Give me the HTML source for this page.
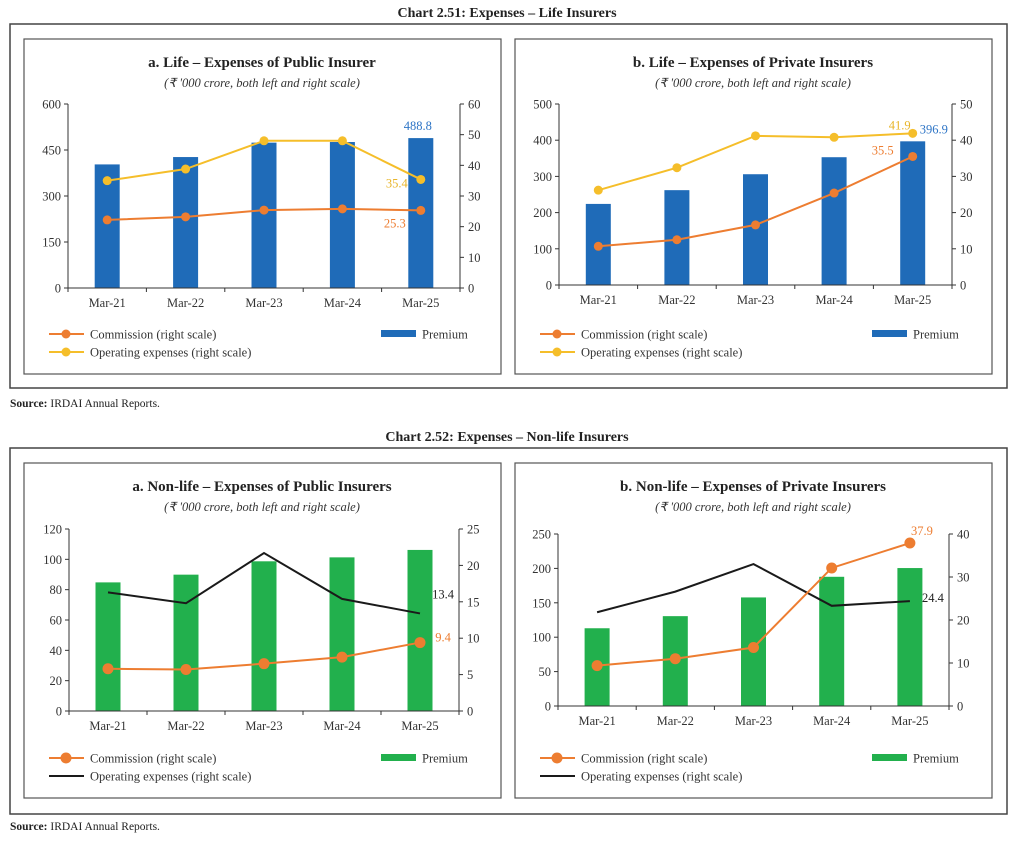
<!DOCTYPE html>
<html><head><meta charset="utf-8"><style>
body{margin:0;background:#fff;width:1015px;height:843px;overflow:hidden;font-family:"Liberation Serif",serif;}
svg text{font-family:"Liberation Serif",serif;}
</style></head><body>
<svg id="root" width="1015" height="843" viewBox="0 0 1015 843" xmlns="http://www.w3.org/2000/svg">
<text x="507" y="17" text-anchor="middle" font-size="14" font-weight="bold" fill="#222">Chart 2.51: Expenses – Life Insurers</text>
<rect x="10" y="24" width="997" height="364" fill="none" stroke="#444" stroke-width="1.5"/>
<text x="10" y="407" font-size="11.5" fill="#222"><tspan font-weight="bold">Source:</tspan> IRDAI Annual Reports.</text>
<text x="507" y="441" text-anchor="middle" font-size="14" font-weight="bold" fill="#222">Chart 2.52: Expenses – Non-life Insurers</text>
<rect x="10" y="448" width="997" height="366" fill="none" stroke="#444" stroke-width="1.5"/>
<text x="10" y="830" font-size="11.5" fill="#222"><tspan font-weight="bold">Source:</tspan> IRDAI Annual Reports.</text>
</svg>
<script>
const categories=["Mar-21","Mar-22","Mar-23","Mar-24","Mar-25"];
const premiumA=[403,427,474,476,488.8];
const commissionA=[22.2,23.2,25.4,25.8,25.3];
const opexA=[35.0,38.8,48.0,48.0,35.4];
const leftTicksA=[0,150,300,450,600];
const rightTicksA=[0,10,20,30,40,50,60];
const premiumB=[224,262,306,353,396.9];
const commissionB=[10.7,12.5,16.6,25.4,35.5];
const opexB=[26.2,32.4,41.2,40.8,41.9];
const leftTicksB=[0,100,200,300,400,500];
const rightTicksB=[0,10,20,30,40,50];
const premiumC=[84.8,89.9,98.7,101.3,106.2];
const commissionC=[5.8,5.7,6.5,7.4,9.4];
const opexC=[16.3,14.8,21.7,15.4,13.4];
const leftTicksC=[0,20,40,60,80,100,120];
const rightTicksC=[0,5,10,15,20,25];
const premiumD=[113,130.6,157.8,187.8,200.5];
const commissionD=[9.4,11.0,13.6,32.1,37.9];
const opexD=[21.8,26.6,33.0,23.3,24.4];
const leftTicksD=[0,50,100,150,200,250];
const rightTicksD=[0,10,20,30,40];

const NS="http://www.w3.org/2000/svg";
const root=document.getElementById('root');
function mk(tag,attrs,parent,txt){const e=document.createElementNS(NS,tag);for(const k in attrs)e.setAttribute(k,attrs[k]);if(txt!==undefined)e.textContent=txt;(parent||root).appendChild(e);return e;}

function panel(cfg){
  const g=mk('g',{});
  
  
  const fr=mk('rect',{x:cfg.px,y:cfg.py,width:477,height:335,fill:'none',stroke:'#555','stroke-width':1.2},g);
  
  
  const cx=cfg.px+238;
  const t=mk('text',{x:cx,y:cfg.py+28,'text-anchor':'middle','font-size':15,'font-weight':'bold',fill:'#222'},g,cfg.title);
  
  
  const st=mk('text',{x:cx,y:cfg.py+48,'text-anchor':'middle','font-size':12.5,'font-style':'italic',fill:'#333'},g,"(₹ '000 crore, both left and right scale)");
  
  
  const L=cfg.x0,R=cfg.x1,T=cfg.y0,B=cfg.y1;
  const lmax=cfg.lt[cfg.lt.length-1],rmax=cfg.rt[cfg.rt.length-1];
  const yl=v=>B-(v/lmax)*(B-T), yr=v=>B-(v/rmax)*(B-T);
  const step=(R-L)/categories.length, xc=i=>L+step*(i+0.5);
  cfg.prem.forEach((v,i)=>{const b=mk('rect',{x:xc(i)-12.5,y:yl(v),width:25,height:B-yl(v),fill:cfg.barColor},g);
    
    });
  const ax=mk('path',{d:`M${L},${T}V${B}H${R}V${T}`,fill:'none',stroke:'#333','stroke-width':1},g);
  
  
  cfg.lt.forEach(v=>{mk('line',{x1:L-4,x2:L,y1:yl(v),y2:yl(v),stroke:'#333'},g);
    const tl=mk('text',{x:L-7,y:yl(v)+4.5,'text-anchor':'end','font-size':12.5,fill:'#333'},g,v);
    
    });
  cfg.rt.forEach(v=>{mk('line',{x1:R,x2:R+4,y1:yr(v),y2:yr(v),stroke:'#333'},g);
    const tl=mk('text',{x:R+8,y:yr(v)+4.5,'font-size':12.5,fill:'#333'},g,v);
    
    });
  for(let i=0;i<=categories.length;i++)mk('line',{x1:L+step*i,x2:L+step*i,y1:B,y2:B+4,stroke:'#333'},g);
  categories.forEach((c,i)=>{const tl=mk('text',{x:xc(i),y:B+19,'text-anchor':'middle','font-size':12.5,fill:'#333'},g,c);
    
    });
  const pts=a=>a.map((v,i)=>xc(i)+','+yr(v)).join(' ');
  const ol=mk('polyline',{points:pts(cfg.opex),fill:'none',stroke:cfg.opexColor,'stroke-width':2},g);
  
  
  if(cfg.opexDots)cfg.opex.forEach((v,i)=>{const d=mk('circle',{cx:xc(i),cy:yr(v),r:cfg.r,fill:cfg.opexColor},g);
    
    });
  const cl=mk('polyline',{points:pts(cfg.comm),fill:'none',stroke:'#ED7D31','stroke-width':2},g);
  
  
  cfg.comm.forEach((v,i)=>{const d=mk('circle',{cx:xc(i),cy:yr(v),r:cfg.r,fill:'#ED7D31'},g);
    
    });
  const last=categories.length-1;
  cfg.labels.forEach(lb=>{const arr=lb.s==='p'?cfg.prem:lb.s==='c'?cfg.comm:cfg.opex;
    const y=lb.s==='p'?yl(arr[last]):yr(arr[last]);
    const tl=mk('text',{x:xc(last)+lb.dx,y:y+lb.dy,'text-anchor':lb.a||'middle','font-size':12.5,fill:lb.col},g,arr[last].toFixed(1));
    
    });
  const ly=cfg.py+295;
  mk('line',{x1:cfg.px+25,x2:cfg.px+60,y1:ly,y2:ly,stroke:'#ED7D31','stroke-width':2},g);
  mk('circle',{cx:cfg.px+42,cy:ly,r:cfg.r,fill:'#ED7D31'},g);
  const l1=mk('text',{x:cfg.px+66,y:ly+4.5,'font-size':12.5,fill:'#333'},g,'Commission (right scale)');
  
  
  mk('line',{x1:cfg.px+25,x2:cfg.px+60,y1:ly+18,y2:ly+18,stroke:cfg.opexColor,'stroke-width':2},g);
  if(cfg.opexDots)mk('circle',{cx:cfg.px+42,cy:ly+18,r:cfg.r,fill:cfg.opexColor},g);
  const l2=mk('text',{x:cfg.px+66,y:ly+22.5,'font-size':12.5,fill:'#333'},g,'Operating expenses (right scale)');
  
  
  mk('rect',{x:cfg.px+357,y:ly-4,width:35,height:7,fill:cfg.barColor},g);
  const l3=mk('text',{x:cfg.px+398,y:ly+4.5,'font-size':12.5,fill:'#333'},g,'Premium');
  
  
}
panel({name:'panel-life-public',px:24,py:39,title:'a. Life – Expenses of Public Insurer',x0:68,x1:460,y0:104,y1:288,lt:leftTicksA,rt:rightTicksA,prem:premiumA,comm:commissionA,opex:opexA,barColor:'#1F6BB8',opexColor:'#F5BE2A',opexDots:true,r:4.5,
  labels:[{s:'p',dx:-3,dy:-8,col:'#2E75C6'},{s:'o',dx:-24,dy:8,col:'#E8B52A'},{s:'c',dx:-26,dy:17,col:'#ED7D31'}]});
panel({name:'panel-life-private',px:515,py:39,title:'b. Life – Expenses of Private Insurers',x0:559,x1:952,y0:104,y1:285,lt:leftTicksB,rt:rightTicksB,prem:premiumB,comm:commissionB,opex:opexB,barColor:'#1F6BB8',opexColor:'#F5BE2A',opexDots:true,r:4.5,
  labels:[{s:'p',dx:7,dy:-8,col:'#2E75C6',a:'start'},{s:'o',dx:-13,dy:-4,col:'#E8B52A'},{s:'c',dx:-30,dy:-2,col:'#ED7D31'}]});
panel({name:'panel-nonlife-public',px:24,py:463,title:'a. Non-life – Expenses of Public Insurers',x0:69,x1:459,y0:529,y1:711,lt:leftTicksC,rt:rightTicksC,prem:premiumC,comm:commissionC,opex:opexC,barColor:'#22B04D',opexColor:'#1a1a1a',opexDots:false,r:5.5,
  labels:[{s:'o',dx:23,dy:-15,col:'#222'},{s:'c',dx:23,dy:-1,col:'#ED7D31'}]});
panel({name:'panel-nonlife-private',px:515,py:463,title:'b. Non-life – Expenses of Private Insurers',x0:558,x1:949,y0:534,y1:706,lt:leftTicksD,rt:rightTicksD,prem:premiumD,comm:commissionD,opex:opexD,barColor:'#22B04D',opexColor:'#1a1a1a',opexDots:false,r:5.5,
  labels:[{s:'o',dx:23,dy:1,col:'#222'},{s:'c',dx:12,dy:-8,col:'#ED7D31'}]});
</script>
</body></html>
